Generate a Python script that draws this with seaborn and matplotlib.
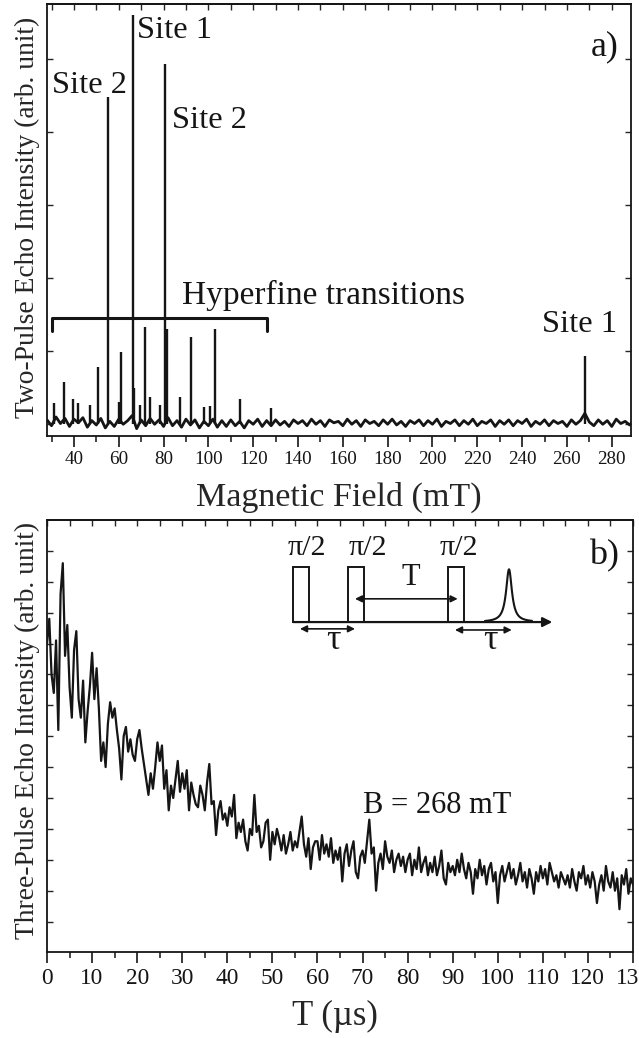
import numpy as np
import matplotlib.pyplot as plt
import seaborn as sns
from matplotlib.patches import Rectangle

# ---------------- data: panel a (two-pulse echo field sweep)
FIELD_START = 28
FIELD_STEP = 2
baseline_a = [
    0.06, -0.02, 0.10, 0.01, 0.08, -0.03, 0.07, 0.02, 0.09, -0.04,
    0.05, -0.01, 0.08, -0.05, 0.04, -0.03, 0.07, 0.00, 0.05, 0.12,
    -0.06, 0.06, -0.02, 0.08, 0.00, 0.06, -0.03, 0.09, -0.02, 0.05,
    -0.04, 0.07, -0.01, 0.06, -0.05, 0.04, -0.02, 0.07, -0.04, 0.05,
    -0.03, 0.06, -0.02, 0.04, -0.05, 0.05, 0.00, 0.07, -0.03, 0.05,
    -0.02, 0.06, -0.01, 0.04, -0.03, 0.06, 0.01, 0.05, -0.02, 0.07,
    0.00, 0.05, -0.03, 0.06, 0.02, 0.04, -0.02, 0.07, 0.00, 0.05,
    -0.03, 0.06, 0.01, 0.04, -0.02, 0.06, 0.00, 0.07, -0.01, 0.04,
    -0.03, 0.05, 0.01, 0.06, -0.02, 0.05, 0.00, 0.07, -0.03, 0.04,
    0.01, 0.06, -0.02, 0.05, 0.00, 0.07, -0.02, 0.04, 0.01, 0.06,
    -0.03, 0.05, 0.00, 0.06, -0.02, 0.05, 0.01, 0.07, -0.03, 0.04,
    0.00, 0.06, -0.02, 0.05, 0.01, 0.04, -0.03, 0.06, 0.00, 0.05,
    0.15, 0.03, -0.02, 0.06, 0.00, 0.05, -0.03, 0.07, 0.01, 0.04,
    -0.01, 0.06,
]
peak_field = [31.0, 35.6, 39.7, 41.6, 47.0, 50.8, 55.4, 60.0, 61.2, 66.2,
              67.0, 69.3, 71.6, 74.1, 78.5, 80.5, 81.5, 87.4, 92.3, 97.9,
              100.7, 103.1, 114.2, 128.1, 268.0]
peak_height = [0.29, 0.58, 0.34, 0.29, 0.26, 0.78, 4.48, 0.31, 0.99, 5.60,
               0.50, 0.26, 1.33, 0.37, 0.27, 4.93, 1.30, 0.37, 1.19, 0.24,
               0.25, 1.30, 0.35, 0.22, 0.94]
bracket_field = [30, 126]
bracket_level = [1.28, 1.46]

# ---------------- data: panel b (three-pulse echo decay, B = 268 mT)
T_STEP = 0.5
echo3 = [
    10.0, 10.8, 9.0, 8.4, 10.1, 7.2, 11.6, 12.6, 9.6, 10.6,
    8.6, 7.6, 9.8, 10.4, 8.2, 7.6, 8.8, 6.8, 7.8, 8.6,
    9.7, 8.2, 9.2, 7.9, 6.2, 6.8, 6.0, 7.4, 8.1, 7.6,
    7.9, 7.2, 6.6, 5.6, 7.0, 7.3, 6.5, 6.9, 6.4, 6.2,
    6.9, 7.2, 6.6, 6.1, 5.6, 5.1, 5.8, 5.3, 6.0, 6.8,
    6.2, 6.7, 5.3, 5.9, 4.6, 5.4, 5.0, 5.6, 6.2, 5.2,
    5.8, 5.3, 5.9, 4.6, 5.5, 5.1, 4.8, 4.7, 5.4, 5.1,
    4.6, 5.5, 6.1, 4.8, 4.9, 3.8, 4.6, 4.9, 4.3, 4.5,
    4.1, 4.7, 4.4, 5.1, 3.7, 4.2, 3.9, 4.3, 3.6, 3.3,
    4.0, 3.8, 5.1, 3.9, 4.1, 3.4, 3.6, 4.2, 4.3, 3.0,
    3.9, 3.5, 4.0, 3.7, 3.3, 3.8, 3.2, 3.5, 3.9, 3.3,
    3.6, 3.4, 3.9, 4.4, 3.5, 3.1, 3.7, 2.7, 3.4, 3.6,
    3.6, 3.0, 3.8, 3.2, 3.5, 3.1, 3.7, 2.9, 3.3, 3.0,
    3.4, 2.3, 3.2, 3.5, 2.8, 3.3, 3.6, 2.6, 2.4, 3.1,
    3.3, 2.9, 3.6, 4.3, 3.2, 3.4, 2.0, 2.9, 3.2, 2.7,
    3.6, 3.1, 2.9, 3.3, 2.6, 3.0, 3.2, 2.8, 3.1, 2.6,
    3.0, 3.2, 2.5, 3.0, 2.7, 3.4, 2.6, 2.9, 3.1, 2.5,
    2.9, 2.6, 3.1, 2.5, 2.8, 3.3, 2.4, 2.2, 2.9, 2.6,
    2.8, 2.5, 3.0, 2.6, 3.2, 2.7, 2.4, 2.9, 2.6, 1.9,
    2.7, 2.4, 3.0, 2.5, 2.8, 2.2, 2.7, 2.9, 2.3, 2.6,
    1.6, 2.5, 2.8, 2.3, 2.6, 2.9, 2.4, 2.7, 2.2, 2.5,
    2.9, 2.3, 2.6, 2.1, 2.7, 2.4, 1.9, 2.6, 2.3, 2.8,
    2.4, 2.7, 2.2, 2.9, 2.6, 2.3, 2.5, 2.1, 2.6, 2.4,
    2.2, 2.5, 2.1, 2.7, 2.3, 2.0, 2.6, 2.4, 2.8, 2.2,
    2.5, 2.1, 2.6, 2.3, 1.6, 2.2, 2.5, 2.0, 2.8, 2.3,
    2.1, 2.6, 2.0, 2.4, 1.4, 2.5, 2.2, 2.7, 1.9, 2.4,
    2.2,
]

INK = '#151515'

field = FIELD_START + FIELD_STEP * np.arange(len(baseline_a))
times = T_STEP * np.arange(len(echo3))

sns.set_theme(style='ticks')
plt.rcParams['font.family'] = ['Liberation Serif', 'DejaVu Serif']
plt.rcParams['axes.linewidth'] = 1.3
plt.rcParams['axes.edgecolor'] = INK
plt.rcParams['text.color'] = INK

fig = plt.figure(figsize=(6.39, 10.38), dpi=100)
ax1 = fig.add_axes([0.0736, 0.58, 0.9139, 0.4162])
ax2 = fig.add_axes([0.0736, 0.0824, 0.917, 0.4167])


def style_axes(ax, xmajor, xminor, yticks, xlabelsize, top_ticks):
    ax.set_xticks(xmajor)
    ax.set_xticks(xminor, minor=True)
    ax.set_yticks(yticks)
    ax.set_yticklabels([])
    ax.tick_params(axis='x', which='major', direction='out', length=8, width=1.2,
                   labelsize=xlabelsize, pad=3, colors=INK)
    ax.tick_params(axis='x', which='minor', direction='out', length=4.5, width=1.2)
    ax.tick_params(axis='y', which='major', direction='in', length=4.5, width=1.0,
                   left=True, right=True)
    top = ax.secondary_xaxis('top')
    top.set_xticks(top_ticks)
    top.tick_params(direction='in', length=4, width=1.0, labeltop=False)
    for s in ax.spines.values():
        s.set_color(INK)


############### a) Two-pulse spectrum
sns.lineplot(x=field, y=baseline_a, ax=ax1, color=INK, linewidth=2.0)
ax1.vlines(peak_field, 0, peak_height, color=INK, linewidth=1.7)
ax1.plot([bracket_field[0], bracket_field[0], bracket_field[1], bracket_field[1]],
         [bracket_level[0], bracket_level[1], bracket_level[1], bracket_level[0]],
         color=INK, linewidth=2.2)
ax1.set_xlim(28, 288.6)
ax1.set_ylim(-0.16, 5.75)
style_axes(ax1, range(40, 281, 20), range(30, 290, 10), range(0, 6), 13.7,
           range(30, 290, 10))
ax1.set_xlabel('Magnetic Field (mT)', fontsize=24.5)
ax1.xaxis.set_label_coords(0.5, -0.106)
ax1.set_ylabel('Two-Pulse Echo Intensity (arb. unit)', fontsize=19.8)
ax1.yaxis.set_label_coords(-0.012, 0.505)

labels_a = [('Site 1', 0.2183, 0.9206, 23.4), ('Site 2', 0.0723, 0.7928, 23.4),
            ('Site 2', 0.278, 0.7137, 23.4), ('Hyperfine transitions', 0.474, 0.3056, 24),
            ('a)', 0.955, 0.882, 26), ('Site 1', 0.912, 0.2407, 23.4)]
for txt, x, y, fs in labels_a:
    ax1.text(x, y, txt, transform=ax1.transAxes, ha='center', va='baseline', fontsize=fs)

############### b) Three-pulse decay
sns.lineplot(x=times, y=echo3, ax=ax2, color=INK, linewidth=1.6)
ax2.set_xlim(0, 130)
ax2.set_ylim(0, 14)
style_axes(ax2, range(0, 131, 10), range(5, 130, 10), range(1, 14), 16.8,
           range(0, 131, 5))
ax2.set_xlabel('T (µs)', fontsize=25)
ax2.xaxis.set_label_coords(0.4915, -0.11)
ax2.set_ylabel('Three-Pulse Echo Intensity (arb. unit)', fontsize=19.8)
ax2.yaxis.set_label_coords(-0.012, 0.513)

# pulse sequence sketch (axes fraction)
tr = ax2.transAxes
base_y, pulse_top = 0.7639, 0.8922
for x0, w in [(0.4203, 0.0273), (0.5142, 0.0273), (0.6838, 0.0278)]:
    ax2.add_patch(Rectangle((x0, base_y), w, pulse_top - base_y, transform=tr,
                            fill=False, edgecolor=INK, linewidth=1.4))
ax2.annotate('', xy=(0.8623, base_y), xytext=(0.4203, base_y), xycoords=tr,
             arrowprops=dict(arrowstyle='-|>', color=INK, lw=1.6, mutation_scale=14,
                             shrinkA=0, shrinkB=0))
for xa, xb, yy in [(0.4317, 0.5256, 0.7482), (0.5256, 0.7008, 0.8176), (0.6962, 0.793, 0.7456)]:
    ax2.annotate('', xy=(xb, yy), xytext=(xa, yy), xycoords=tr,
                 arrowprops=dict(arrowstyle='<|-|>', color=INK, lw=1.2, mutation_scale=10,
                                 shrinkA=0, shrinkB=0))
ex = np.linspace(0.7474, 0.8276, 120)
ey = base_y + 0.122 * 0.006 ** 2 / ((ex - 0.7884) ** 2 + 0.006 ** 2)
ax2.plot(ex, ey, transform=tr, color=INK, linewidth=1.5)

labels_b = [('π/2', 0.4437, 0.919, 21.6), ('π/2', 0.5478, 0.919, 21.6),
            ('π/2', 0.7031, 0.919, 21.6), ('T', 0.6206, 0.8497, 22),
            ('τ', 0.488, 0.7023, 26), ('τ', 0.756, 0.7023, 26),
            ('b)', 0.9505, 0.8973, 26), ('B = 268 mT', 0.6664, 0.3225, 22)]
for txt, x, y, fs in labels_b:
    ax2.text(x, y, txt, transform=tr, ha='center', va='baseline', fontsize=fs)

fig.savefig('out.png', dpi=100)
